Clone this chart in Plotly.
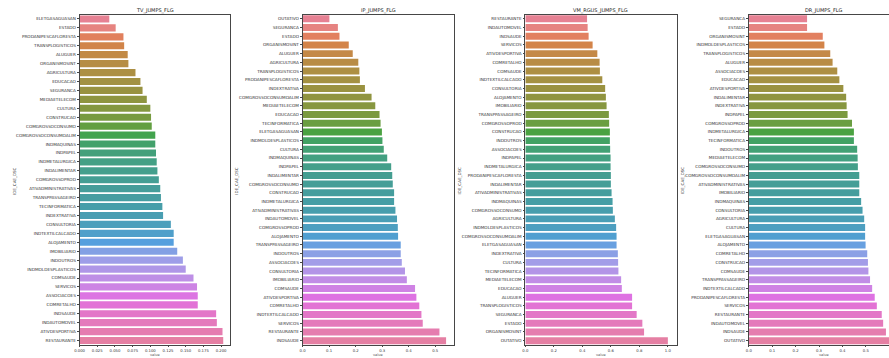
import math
import colorsys
import plotly.graph_objects as go

# ---------------- DATA ----------------
tv_cats = ["ELETGASAGUASAN", "ESTADO", "PRODANIPESCAFLORESTA", "TRANSPLOGISTICOS", "ALUGUER",
           "ORGANISMOSINT", "AGRICULTURA", "EDUCACAO", "SEGURANCA", "MEDIAETELECOM", "CULTURA",
           "CONSTRUCAO", "COMGROSSOCONSUMO", "COMGROSSOCONSUMOALIM", "INDMAQUINAS", "INDPAPEL",
           "INDMETALURGICA", "INDALIMENTAR", "COMGROSSOPROD", "ATIVADMINISTRATIVAS",
           "TRANSPPASSAGEIRO", "TECINFORMATICA", "INDEXTRATIVA", "CONSULTORIA", "INDTEXTILCALCADO",
           "ALOJAMENTO", "IMOBILIARIO", "INDOUTROS", "INDMOLDESPLASTICOS", "COMSAUDE", "SERVICOS",
           "ASSOCIACOES", "COMRETALHO", "INDSAUDE", "INDAUTOMOVEL", "ATIVDESPORTIVA", "RESTAURANTE"]
tv_vals = [0.042, 0.051, 0.062, 0.063, 0.068, 0.069, 0.079, 0.086, 0.089, 0.095, 0.100,
           0.101, 0.102, 0.107, 0.107, 0.108, 0.109, 0.110, 0.112, 0.114, 0.115, 0.117, 0.118,
           0.129, 0.133, 0.133, 0.138, 0.146, 0.150, 0.161, 0.166, 0.167, 0.167, 0.193, 0.194,
           0.202, 0.203]

ip_cats = ["OUTATIVO", "SEGURANCA", "ESTADO", "ORGANISMOSINT", "ALUGUER", "AGRICULTURA",
           "TRANSPLOGISTICOS", "PRODANIPESCAFLORESTA", "INDEXTRATIVA", "COMGROSSOCONSUMOALIM",
           "MEDIAETELECOM", "EDUCACAO", "TECINFORMATICA", "ELETGASAGUASAN", "INDMOLDESPLASTICOS",
           "CULTURA", "INDMAQUINAS", "INDPAPEL", "INDALIMENTAR", "COMGROSSOCONSUMO", "CONSTRUCAO",
           "INDMETALURGICA", "ATIVADMINISTRATIVAS", "INDAUTOMOVEL", "COMGROSSOPROD", "ALOJAMENTO",
           "TRANSPPASSAGEIRO", "INDOUTROS", "ASSOCIACOES", "CONSULTORIA", "IMOBILIARIO", "COMSAUDE",
           "ATIVDESPORTIVA", "COMRETALHO", "INDTEXTILCALCADO", "SERVICOS", "RESTAURANTE", "INDSAUDE"]
ip_vals = [0.101, 0.133, 0.139, 0.174, 0.189, 0.210, 0.214, 0.216, 0.235, 0.260, 0.274, 0.290,
           0.294, 0.299, 0.301, 0.306, 0.319, 0.334, 0.338, 0.340, 0.345, 0.345, 0.350, 0.356,
           0.359, 0.360, 0.370, 0.370, 0.374, 0.386, 0.393, 0.424, 0.429, 0.440, 0.448, 0.453,
           0.516, 0.541]

vm_cats = ["RESTAURANTE", "INDAUTOMOVEL", "INDSAUDE", "SERVICOS", "ATIVDESPORTIVA", "COMRETALHO",
           "COMSAUDE", "INDTEXTILCALCADO", "CONSULTORIA", "ALOJAMENTO", "IMOBILIARIO",
           "TRANSPPASSAGEIRO", "COMGROSSOPROD", "CONSTRUCAO", "INDOUTROS", "ASSOCIACOES", "INDPAPEL",
           "INDMETALURGICA", "PRODANIPESCAFLORESTA", "INDALIMENTAR", "ATIVADMINISTRATIVAS",
           "INDMAQUINAS", "COMGROSSOCONSUMO", "AGRICULTURA", "INDMOLDESPLASTICOS",
           "COMGROSSOCONSUMOALIM", "ELETGASAGUASAN", "INDEXTRATIVA", "CULTURA", "TECINFORMATICA",
           "MEDIAETELECOM", "EDUCACAO", "ALUGUER", "TRANSPLOGISTICOS", "SEGURANCA", "ESTADO",
           "ORGANISMOSINT", "OUTATIVO"]
vm_vals = [0.433, 0.437, 0.444, 0.472, 0.505, 0.521, 0.523, 0.540, 0.560, 0.565, 0.570, 0.586,
           0.588, 0.593, 0.593, 0.595, 0.598, 0.598, 0.600, 0.600, 0.605, 0.612, 0.614, 0.628,
           0.637, 0.640, 0.640, 0.649, 0.651, 0.653, 0.672, 0.677, 0.749, 0.749, 0.781, 0.821,
           0.833, 1.000]

dr_cats = ["SEGURANCA", "ESTADO", "ORGANISMOSINT", "INDMOLDESPLASTICOS", "TRANSPLOGISTICOS",
           "ALUGUER", "ASSOCIACOES", "EDUCACAO", "ATIVDESPORTIVA", "INDALIMENTAR", "INDEXTRATIVA",
           "INDPAPEL", "COMGROSSOPROD", "INDMETALURGICA", "TECINFORMATICA", "INDOUTROS",
           "MEDIAETELECOM", "COMGROSSOCONSUMO", "COMGROSSOCONSUMOALIM", "ATIVADMINISTRATIVAS",
           "IMOBILIARIO", "INDMAQUINAS", "CONSULTORIA", "AGRICULTURA", "CULTURA", "ELETGASAGUASAN",
           "ALOJAMENTO", "COMRETALHO", "CONSTRUCAO", "COMSAUDE", "TRANSPPASSAGEIRO",
           "INDTEXTILCALCADO", "PRODANIPESCAFLORESTA", "SERVICOS", "RESTAURANTE", "INDAUTOMOVEL",
           "INDSAUDE", "OUTATIVO"]
dr_vals = [0.249, 0.249, 0.316, 0.323, 0.348, 0.358, 0.378, 0.387, 0.404, 0.416, 0.418, 0.422,
           0.441, 0.449, 0.449, 0.463, 0.465, 0.466, 0.472, 0.472, 0.472, 0.480, 0.486, 0.493,
           0.497, 0.497, 0.499, 0.506, 0.509, 0.511, 0.518, 0.527, 0.538, 0.547, 0.568, 0.574,
           0.586, 0.610]

titles = ["TV_JUMPS_FLG", "IP_JUMPS_FLG", "VM_RGUS_JUMPS_FLG", "DR_JUMPS_FLG"]
y_title = "IDE_CAE_DSC"
x_title = "value"
tv_ticks = [0.0, 0.025, 0.05, 0.075, 0.1, 0.125, 0.15, 0.175, 0.2]
ip_ticks = [0.0, 0.1, 0.2, 0.3, 0.4, 0.5]
vm_ticks = [0.0, 0.2, 0.4, 0.6, 0.8, 1.0]
dr_ticks = [0.0, 0.1, 0.2, 0.3, 0.4, 0.5]

# ---------------- HUSL palette (seaborn style) ----------------
_m = [[3.2406, -1.5372, -0.4986], [-0.9689, 1.8758, 0.0415], [0.0557, -0.2040, 1.0570]]
_refU, _refV, _kappa, _eps = 0.19784, 0.46834, 903.2963, 0.0088564


def _max_chroma(L, H):
    hrad = math.radians(H)
    sinH, cosH = math.sin(hrad), math.cos(hrad)
    sub1 = (L + 16) ** 3 / 1560896.0
    sub2 = sub1 if sub1 > _eps else L / _kappa
    result = float("inf")
    for m1, m2, m3 in _m:
        top = (0.99915 * m1 + 1.05122 * m2 + 1.14460 * m3) * sub2
        rb = 0.86330 * m3 - 0.17266 * m2
        lb = 0.12949 * m3 - 0.38848 * m1
        bottom = (rb * sinH + lb * cosH) * sub2
        for t in (0.0, 1.0):
            C = L * (top - 1.05122 * t) / (bottom + 0.17266 * sinH * t)
            if 0 < C < result:
                result = C
    return result


def _husl_to_rgb(H, S, L):
    C = _max_chroma(L, H) / 100.0 * S
    hrad = math.radians(H)
    U, V = math.cos(hrad) * C, math.sin(hrad) * C
    t = (L + 16) / 116.0
    Y = t ** 3 if t ** 3 > _eps else (116 * t - 16) / _kappa
    varU = U / (13 * L) + _refU
    varV = V / (13 * L) + _refV
    X = 0 - (9 * Y * varU) / ((varU - 4) * varV - varU * varV)
    Z = (9 * Y - 15 * varV * Y - varV * X) / (3 * varV)
    out = []
    for row in _m:
        c = row[0] * X + row[1] * Y + row[2] * Z
        c = 12.92 * c if c <= 0.0031308 else 1.055 * c ** (1 / 2.4) - 0.055
        out.append(min(max(c, 0.0), 1.0))
    return out


def husl_colors(n, h=0.01, s=0.9, l=0.65, sat=0.75):
    cols = []
    for i in range(n):
        hue = ((i / n + h) % 1) * 359
        r, g, b = _husl_to_rgb(hue, s * 99, l * 99)
        hh, ll, ss = colorsys.rgb_to_hls(r, g, b)
        r, g, b = colorsys.hls_to_rgb(hh, ll, ss * sat)
        cols.append("rgb(%d,%d,%d)" % (round(r * 255), round(g * 255), round(b * 255)))
    return cols


# ---------------- LAYOUT ----------------
W, H = 889, 358
px_x = lambda p: p / W
px_y = lambda p: 1 - p / H

panels = [
    (tv_cats, tv_vals, tv_ticks, (75, 226), [0, 0.2122], "%.3f"),
    (ip_cats, ip_vals, ip_ticks, (299.3, 451.5), [0, 0.5707], "%.1f"),
    (vm_cats, vm_vals, vm_ticks, (523.3, 675.5), [0, 1.062], "%.1f"),
    (dr_cats, dr_vals, dr_ticks, (748, 889), [0, 0.599], "%.1f"),
]
ylab_x = [9, 232, 457, 681]
y_top, y_bot = 14.5, 345

fig = go.Figure()
layout = dict(width=W, height=H, margin=dict(l=0, r=0, t=0, b=0),
              paper_bgcolor="white", plot_bgcolor="white", showlegend=False,
              font=dict(family="DejaVu Sans", color="#222", size=4), bargap=0.2)
annotations = []
line_col = "rgb(70,70,70)"

for i, (cats, vals, ticks, (x0, x1), rng, fmt) in enumerate(panels):
    k = "" if i == 0 else str(i + 1)
    fig.add_trace(go.Bar(x=vals, y=cats, orientation="h",
                         marker=dict(color=husl_colors(len(cats)), line=dict(width=0)),
                         width=0.8, xaxis="x" + k, yaxis="y" + k, hoverinfo="x+y"))
    layout["xaxis" + k] = dict(domain=[px_x(x0), px_x(x1)], range=rng, anchor="y" + k,
                               tickvals=ticks, ticktext=[fmt % t for t in ticks],
                               ticks="outside", ticklen=1.5, tickwidth=0.5, tickcolor=line_col,
                               tickfont=dict(size=3.8, color="#333"), showgrid=False,
                               zeroline=False, showline=True, linecolor=line_col,
                               linewidth=0.7, mirror=True)
    layout["yaxis" + k] = dict(domain=[px_y(y_bot), px_y(y_top)], anchor="x" + k,
                               type="category", categoryorder="array", categoryarray=cats,
                               range=[len(cats) - 0.5, -0.5], ticks="outside", ticklen=2,
                               tickwidth=0.5, tickcolor=line_col,
                               tickfont=dict(size=4.2, color="#333"), showgrid=False,
                               zeroline=False, showline=True, linecolor=line_col,
                               linewidth=0.7, mirror=(i < 3))
    annotations.append(dict(text=titles[i], x=px_x((x0 + x0 + 152) / 2), y=px_y(10.5),
                            xref="paper", yref="paper", showarrow=False,
                            font=dict(size=5, color="#222"), xanchor="center", yanchor="middle"))
    annotations.append(dict(text=y_title, x=px_x(ylab_x[i]), y=px_y(181), xref="paper",
                            yref="paper", showarrow=False, textangle=-90,
                            font=dict(size=4, color="#333"), xanchor="center", yanchor="middle"))
    annotations.append(dict(text=x_title, x=px_x((x0 + x0 + 152) / 2), y=0,
                            xref="paper", yref="paper", showarrow=False,
                            font=dict(size=3.5, color="#555"), xanchor="center",
                            yanchor="bottom", borderpad=0))

layout["annotations"] = annotations
fig.update_layout(**layout)
fig.write_html("out.html")
